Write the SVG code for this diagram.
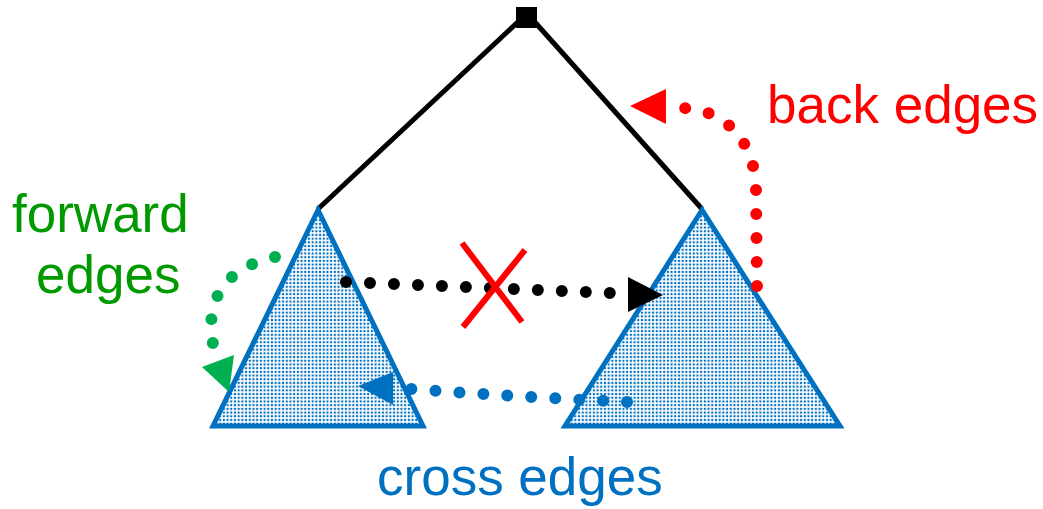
<svg xmlns="http://www.w3.org/2000/svg" width="1043" height="509" viewBox="0 0 1043 509">
<style>
.tri{fill:url(#dots);stroke:#0070C0;stroke-width:5;stroke-linejoin:miter}
.edge{stroke:#000;stroke-width:5;fill:none}
.dot{fill:none;stroke-linecap:round;stroke-dasharray:0 24;stroke-width:12}
.lbl{font-family:"Liberation Sans",Arial,sans-serif;font-size:53px}
</style>
<defs>
<pattern id="dots" width="3.7" height="3.7" patternUnits="userSpaceOnUse">
<rect width="3.7" height="3.7" fill="#fff"/>
<rect x="0.8" y="0.8" width="2.1" height="2.1" fill="#0070C0"/>
</pattern>
</defs>
<g id="tree-edges">
<line class="edge" x1="520" y1="20" x2="318" y2="209"/>
<line class="edge" x1="533" y1="20" x2="702" y2="209"/>
</g>
<g id="root"><rect x="516" y="7" width="21" height="21" fill="#000"/></g>
<g id="left-subtree"><polygon class="tri" points="318,210 213,426 423,426"/></g>
<g id="right-subtree"><polygon class="tri" points="702,210 565,426 840,426"/></g>
<g id="connectors">
<path class="dot" d="M346,282 L610,293" stroke="#000"/>
<polygon points="628,277 663,295 628,312" fill="#000"/>
<path class="dot" d="M757,286 L756,190 C755,140 725,110 683,108" stroke="#FF0000"/>
<polygon points="630,106 666,89 666,124" fill="#FF0000"/>
<path class="dot" d="M275,257 C235,265 203,292 213,344" stroke="#00B050"/>
<polygon points="202,367 234,355 229,392" fill="#00B050"/>
<path class="dot" d="M627,402 Q520,397 410,389" stroke="#0070C0"/>
<polygon points="358,386 393,372 393,405" fill="#0070C0"/>
<g id="cross-mark" stroke="#FF0000" stroke-width="6">
<line x1="462" y1="243" x2="522" y2="322"/>
<line x1="525" y1="250" x2="463" y2="327"/>
</g>
</g>
<g id="labels">
<text class="lbl" x="767" y="123" fill="#FF0000">back edges</text>
<text class="lbl" x="12" y="232" fill="#009900">forward</text>
<text class="lbl" x="36" y="293" fill="#009900">edges</text>
<text class="lbl" x="377" y="495" fill="#0070C0">cross edges</text>
</g>
</svg>
